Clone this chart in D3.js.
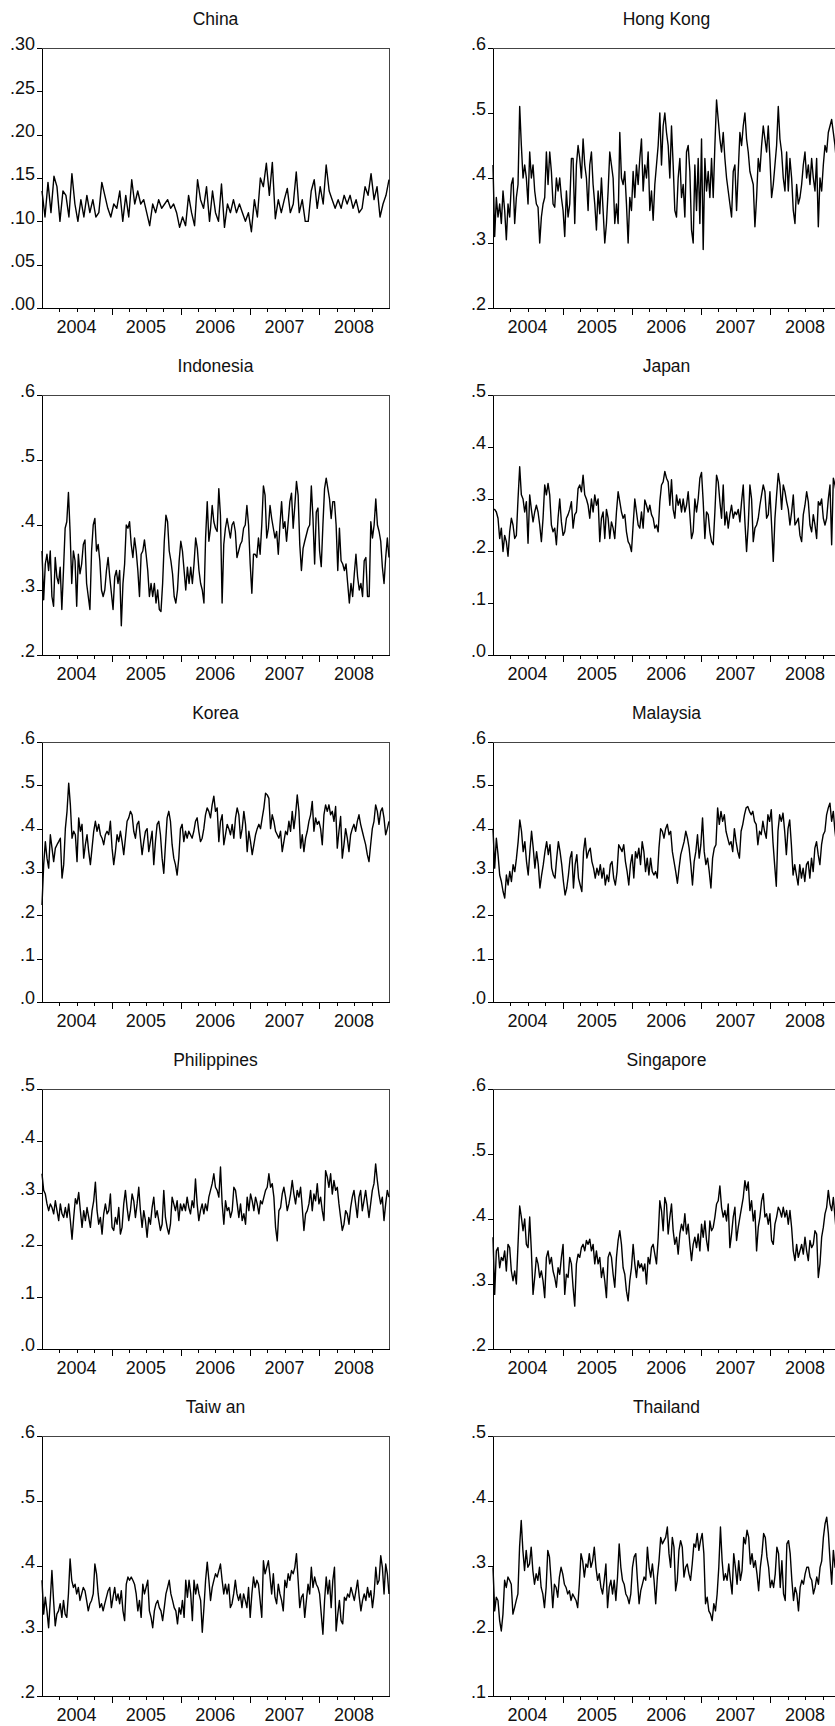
<!DOCTYPE html>
<html>
<head>
<meta charset="utf-8">
<script src="https://cdn.jsdelivr.net/npm/d3@7"></script>
<style>
body { margin: 0; background: #fff; }
svg { display: block; font-family: "Liberation Sans", Arial, sans-serif; }
</style>
</head>
<body>
<svg></svg>
<script>
// panel titles, left to right, top to bottom
let countries = ["China", "Hong Kong", "Indonesia", "Japan", "Korea", "Malaysia",
                 "Philippines", "Singapore", "Taiw an", "Thailand"];

let yearLabels = ["2004", "2005", "2006", "2007", "2008"];

let yDomains = [[0, 0.30], [0.2, 0.6], [0.2, 0.6], [0, 0.5], [0, 0.6],
                [0, 0.6], [0, 0.5], [0.2, 0.6], [0.2, 0.6], [0.1, 0.5]];

let yTicks = [
    [0, 0.05, 0.10, 0.15, 0.20, 0.25, 0.30],
    [0.2, 0.3, 0.4, 0.5, 0.6],
    [0.2, 0.3, 0.4, 0.5, 0.6],
    [0, 0.1, 0.2, 0.3, 0.4, 0.5],
    [0, 0.1, 0.2, 0.3, 0.4, 0.5, 0.6],
    [0, 0.1, 0.2, 0.3, 0.4, 0.5, 0.6],
    [0, 0.1, 0.2, 0.3, 0.4, 0.5],
    [0.2, 0.3, 0.4, 0.5, 0.6],
    [0.2, 0.3, 0.4, 0.5, 0.6],
    [0.1, 0.2, 0.3, 0.4, 0.5]
];

let yDecimals = [2, 1, 1, 1, 1, 1, 1, 1, 1, 1];

let china = [0.135, 0.105, 0.145, 0.11, 0.152, 0.14, 0.10, 0.135, 0.13, 0.105, 0.155, 0.12, 0.10, 0.125, 0.105, 0.13, 0.11, 0.125, 0.105, 0.11, 0.145, 0.13, 0.115, 0.105, 0.12, 0.115, 0.135, 0.10, 0.13, 0.105, 0.148, 0.12, 0.135, 0.12, 0.125, 0.11, 0.095, 0.12, 0.11, 0.125, 0.115, 0.12, 0.125, 0.115, 0.12, 0.11, 0.093, 0.105, 0.095, 0.13, 0.11, 0.095, 0.148, 0.125, 0.115, 0.14, 0.10, 0.135, 0.11, 0.10, 0.143, 0.093, 0.12, 0.11, 0.125, 0.11, 0.12, 0.11, 0.10, 0.11, 0.088, 0.125, 0.105, 0.15, 0.14, 0.167, 0.13, 0.168, 0.103, 0.125, 0.11, 0.125, 0.138, 0.11, 0.12, 0.157, 0.11, 0.125, 0.10, 0.10, 0.135, 0.148, 0.115, 0.14, 0.12, 0.165, 0.135, 0.125, 0.115, 0.125, 0.115, 0.13, 0.12, 0.13, 0.115, 0.125, 0.11, 0.115, 0.14, 0.13, 0.155, 0.125, 0.14, 0.105, 0.12, 0.13, 0.148];

let hongKong = [0.42, 0.31, 0.37, 0.34, 0.36, 0.33, 0.38, 0.35, 0.305, 0.36, 0.34, 0.39, 0.40, 0.33, 0.37, 0.39, 0.51, 0.45, 0.40, 0.42, 0.40, 0.36, 0.44, 0.40, 0.42, 0.38, 0.36, 0.355, 0.30, 0.34, 0.36, 0.37, 0.44, 0.39, 0.44, 0.41, 0.36, 0.355, 0.40, 0.38, 0.40, 0.37, 0.35, 0.31, 0.38, 0.34, 0.36, 0.43, 0.43, 0.33, 0.42, 0.45, 0.43, 0.40, 0.46, 0.42, 0.40, 0.35, 0.42, 0.44, 0.39, 0.36, 0.32, 0.38, 0.345, 0.40, 0.35, 0.30, 0.33, 0.38, 0.44, 0.42, 0.40, 0.33, 0.36, 0.33, 0.47, 0.40, 0.39, 0.41, 0.36, 0.30, 0.37, 0.35, 0.41, 0.37, 0.42, 0.39, 0.43, 0.46, 0.38, 0.42, 0.40, 0.44, 0.35, 0.38, 0.335, 0.39, 0.42, 0.45, 0.50, 0.42, 0.48, 0.50, 0.47, 0.45, 0.40, 0.48, 0.42, 0.35, 0.34, 0.40, 0.43, 0.37, 0.39, 0.34, 0.44, 0.45, 0.41, 0.32, 0.30, 0.42, 0.35, 0.43, 0.33, 0.46, 0.29, 0.43, 0.38, 0.41, 0.37, 0.43, 0.37, 0.45, 0.52, 0.49, 0.46, 0.44, 0.47, 0.43, 0.40, 0.38, 0.36, 0.34, 0.41, 0.42, 0.35, 0.41, 0.47, 0.45, 0.48, 0.50, 0.46, 0.44, 0.41, 0.40, 0.39, 0.325, 0.37, 0.43, 0.41, 0.45, 0.48, 0.46, 0.44, 0.48, 0.43, 0.37, 0.39, 0.42, 0.45, 0.51, 0.46, 0.44, 0.40, 0.38, 0.44, 0.38, 0.43, 0.40, 0.35, 0.33, 0.39, 0.36, 0.37, 0.39, 0.42, 0.44, 0.40, 0.42, 0.39, 0.43, 0.40, 0.38, 0.43, 0.325, 0.40, 0.38, 0.42, 0.45, 0.44, 0.47, 0.48, 0.49, 0.47, 0.45, 0.42, 0.46, 0.37];

let indonesia = [0.36, 0.285, 0.34, 0.355, 0.33, 0.36, 0.29, 0.275, 0.35, 0.32, 0.31, 0.335, 0.27, 0.33, 0.395, 0.405, 0.45, 0.39, 0.31, 0.36, 0.345, 0.275, 0.355, 0.325, 0.34, 0.37, 0.377, 0.31, 0.29, 0.27, 0.36, 0.40, 0.41, 0.36, 0.37, 0.345, 0.30, 0.29, 0.30, 0.33, 0.35, 0.32, 0.295, 0.27, 0.32, 0.33, 0.31, 0.33, 0.245, 0.31, 0.34, 0.40, 0.395, 0.405, 0.37, 0.35, 0.38, 0.36, 0.33, 0.29, 0.355, 0.36, 0.377, 0.355, 0.33, 0.29, 0.31, 0.29, 0.31, 0.28, 0.30, 0.27, 0.267, 0.31, 0.375, 0.415, 0.405, 0.36, 0.345, 0.325, 0.29, 0.28, 0.30, 0.345, 0.375, 0.36, 0.33, 0.30, 0.335, 0.31, 0.335, 0.31, 0.34, 0.38, 0.364, 0.33, 0.31, 0.30, 0.28, 0.38, 0.436, 0.375, 0.395, 0.43, 0.405, 0.395, 0.39, 0.456, 0.415, 0.28, 0.37, 0.395, 0.41, 0.395, 0.38, 0.40, 0.405, 0.39, 0.35, 0.36, 0.37, 0.375, 0.395, 0.40, 0.43, 0.40, 0.34, 0.295, 0.355, 0.355, 0.35, 0.38, 0.355, 0.40, 0.46, 0.446, 0.38, 0.395, 0.43, 0.41, 0.395, 0.38, 0.39, 0.355, 0.40, 0.436, 0.395, 0.405, 0.375, 0.405, 0.436, 0.449, 0.395, 0.43, 0.467, 0.446, 0.37, 0.33, 0.364, 0.375, 0.385, 0.395, 0.40, 0.46, 0.41, 0.34, 0.42, 0.426, 0.36, 0.336, 0.40, 0.456, 0.472, 0.456, 0.44, 0.41, 0.436, 0.436, 0.40, 0.33, 0.395, 0.345, 0.34, 0.33, 0.34, 0.31, 0.28, 0.31, 0.29, 0.325, 0.355, 0.32, 0.30, 0.31, 0.29, 0.345, 0.35, 0.29, 0.29, 0.405, 0.38, 0.40, 0.44, 0.40, 0.39, 0.375, 0.335, 0.31, 0.35, 0.38, 0.35];

let japan = [0.28, 0.28, 0.275, 0.263, 0.224, 0.244, 0.199, 0.23, 0.218, 0.19, 0.237, 0.263, 0.25, 0.224, 0.23, 0.30, 0.362, 0.308, 0.30, 0.275, 0.295, 0.215, 0.308, 0.28, 0.256, 0.275, 0.288, 0.275, 0.25, 0.218, 0.263, 0.327, 0.308, 0.33, 0.308, 0.25, 0.237, 0.244, 0.212, 0.263, 0.30, 0.256, 0.23, 0.237, 0.263, 0.27, 0.28, 0.295, 0.244, 0.27, 0.275, 0.32, 0.327, 0.314, 0.346, 0.308, 0.30, 0.288, 0.263, 0.30, 0.275, 0.308, 0.288, 0.30, 0.218, 0.263, 0.275, 0.224, 0.28, 0.263, 0.224, 0.256, 0.244, 0.224, 0.275, 0.314, 0.295, 0.275, 0.263, 0.27, 0.237, 0.218, 0.212, 0.199, 0.25, 0.30, 0.275, 0.25, 0.244, 0.275, 0.244, 0.298, 0.288, 0.275, 0.288, 0.27, 0.263, 0.244, 0.25, 0.237, 0.295, 0.327, 0.333, 0.353, 0.34, 0.333, 0.288, 0.337, 0.28, 0.263, 0.308, 0.288, 0.30, 0.275, 0.30, 0.275, 0.288, 0.314, 0.27, 0.224, 0.237, 0.30, 0.275, 0.30, 0.34, 0.351, 0.295, 0.224, 0.275, 0.27, 0.237, 0.218, 0.212, 0.275, 0.346, 0.333, 0.295, 0.263, 0.327, 0.25, 0.275, 0.244, 0.27, 0.288, 0.263, 0.275, 0.27, 0.28, 0.256, 0.295, 0.327, 0.256, 0.199, 0.25, 0.327, 0.30, 0.218, 0.244, 0.25, 0.263, 0.288, 0.308, 0.327, 0.314, 0.263, 0.27, 0.314, 0.25, 0.18, 0.263, 0.308, 0.349, 0.327, 0.28, 0.327, 0.314, 0.295, 0.28, 0.25, 0.275, 0.308, 0.25, 0.256, 0.263, 0.23, 0.218, 0.27, 0.288, 0.314, 0.295, 0.25, 0.237, 0.27, 0.25, 0.224, 0.295, 0.288, 0.30, 0.263, 0.25, 0.263, 0.30, 0.327, 0.212, 0.34, 0.327, 0.308, 0.30, 0.29];

let korea = [0.224, 0.317, 0.37, 0.332, 0.309, 0.386, 0.355, 0.324, 0.355, 0.363, 0.37, 0.378, 0.286, 0.317, 0.40, 0.44, 0.505, 0.455, 0.378, 0.394, 0.386, 0.324, 0.425, 0.394, 0.41, 0.332, 0.363, 0.386, 0.347, 0.317, 0.355, 0.394, 0.417, 0.394, 0.41, 0.386, 0.378, 0.363, 0.386, 0.394, 0.386, 0.417, 0.355, 0.317, 0.347, 0.386, 0.37, 0.394, 0.37, 0.34, 0.378, 0.417, 0.425, 0.44, 0.432, 0.394, 0.378, 0.41, 0.417, 0.378, 0.34, 0.37, 0.394, 0.40, 0.347, 0.37, 0.394, 0.317, 0.37, 0.41, 0.417, 0.386, 0.332, 0.297, 0.363, 0.425, 0.44, 0.417, 0.363, 0.332, 0.317, 0.293, 0.332, 0.40, 0.41, 0.37, 0.394, 0.378, 0.394, 0.386, 0.378, 0.394, 0.417, 0.425, 0.394, 0.37, 0.378, 0.40, 0.432, 0.448, 0.44, 0.425, 0.455, 0.475, 0.44, 0.448, 0.37, 0.417, 0.432, 0.363, 0.386, 0.41, 0.40, 0.386, 0.41, 0.378, 0.425, 0.448, 0.432, 0.378, 0.40, 0.44, 0.41, 0.347, 0.394, 0.37, 0.34, 0.363, 0.386, 0.40, 0.41, 0.40, 0.425, 0.448, 0.482, 0.478, 0.47, 0.40, 0.432, 0.417, 0.394, 0.386, 0.378, 0.394, 0.347, 0.37, 0.394, 0.386, 0.417, 0.394, 0.44, 0.40, 0.432, 0.478, 0.44, 0.355, 0.386, 0.347, 0.378, 0.394, 0.417, 0.432, 0.463, 0.394, 0.425, 0.41, 0.417, 0.40, 0.363, 0.432, 0.455, 0.44, 0.455, 0.432, 0.44, 0.417, 0.451, 0.355, 0.394, 0.428, 0.332, 0.363, 0.40, 0.378, 0.347, 0.386, 0.40, 0.41, 0.394, 0.417, 0.432, 0.41, 0.394, 0.378, 0.363, 0.34, 0.324, 0.363, 0.40, 0.417, 0.455, 0.44, 0.41, 0.44, 0.448, 0.425, 0.386, 0.40, 0.417];

let malaysia = [0.40, 0.309, 0.378, 0.34, 0.293, 0.278, 0.255, 0.24, 0.293, 0.27, 0.301, 0.278, 0.317, 0.301, 0.332, 0.37, 0.42, 0.394, 0.347, 0.37, 0.324, 0.293, 0.347, 0.394, 0.355, 0.309, 0.347, 0.317, 0.263, 0.293, 0.317, 0.347, 0.37, 0.34, 0.363, 0.309, 0.293, 0.286, 0.332, 0.37, 0.347, 0.317, 0.278, 0.247, 0.263, 0.293, 0.332, 0.347, 0.263, 0.317, 0.34, 0.286, 0.27, 0.255, 0.347, 0.378, 0.332, 0.347, 0.355, 0.324, 0.309, 0.286, 0.309, 0.293, 0.317, 0.286, 0.309, 0.27, 0.293, 0.278, 0.317, 0.324, 0.286, 0.27, 0.301, 0.363, 0.355, 0.347, 0.363, 0.324, 0.301, 0.27, 0.317, 0.34, 0.286, 0.347, 0.332, 0.355, 0.317, 0.37, 0.347, 0.301, 0.332, 0.293, 0.332, 0.301, 0.293, 0.301, 0.286, 0.355, 0.40, 0.394, 0.378, 0.40, 0.41, 0.386, 0.394, 0.347, 0.324, 0.301, 0.274, 0.309, 0.34, 0.355, 0.37, 0.394, 0.378, 0.355, 0.317, 0.27, 0.324, 0.347, 0.386, 0.332, 0.363, 0.425, 0.347, 0.317, 0.332, 0.301, 0.263, 0.332, 0.355, 0.363, 0.448, 0.41, 0.44, 0.417, 0.432, 0.394, 0.378, 0.363, 0.37, 0.347, 0.40, 0.37, 0.347, 0.332, 0.394, 0.41, 0.432, 0.448, 0.451, 0.44, 0.432, 0.44, 0.417, 0.41, 0.363, 0.394, 0.386, 0.417, 0.394, 0.378, 0.432, 0.417, 0.444, 0.37, 0.317, 0.267, 0.394, 0.432, 0.417, 0.436, 0.394, 0.34, 0.40, 0.42, 0.363, 0.293, 0.317, 0.293, 0.27, 0.317, 0.286, 0.309, 0.278, 0.317, 0.324, 0.286, 0.332, 0.301, 0.355, 0.37, 0.34, 0.317, 0.363, 0.386, 0.394, 0.432, 0.448, 0.459, 0.417, 0.44, 0.394, 0.363, 0.317, 0.33];

let philippines = [0.337, 0.305, 0.298, 0.279, 0.266, 0.279, 0.272, 0.26, 0.285, 0.266, 0.247, 0.279, 0.26, 0.253, 0.272, 0.253, 0.279, 0.247, 0.211, 0.253, 0.289, 0.279, 0.301, 0.266, 0.234, 0.266, 0.247, 0.272, 0.253, 0.234, 0.266, 0.285, 0.321, 0.266, 0.24, 0.253, 0.221, 0.26, 0.279, 0.26, 0.266, 0.298, 0.234, 0.228, 0.253, 0.24, 0.272, 0.221, 0.234, 0.279, 0.305, 0.272, 0.247, 0.266, 0.298, 0.285, 0.253, 0.279, 0.311, 0.266, 0.234, 0.266, 0.247, 0.215, 0.253, 0.24, 0.272, 0.292, 0.253, 0.266, 0.247, 0.228, 0.24, 0.305, 0.253, 0.234, 0.221, 0.24, 0.292, 0.279, 0.266, 0.285, 0.247, 0.279, 0.266, 0.279, 0.266, 0.292, 0.272, 0.26, 0.285, 0.272, 0.327, 0.279, 0.247, 0.266, 0.279, 0.26, 0.279, 0.266, 0.292, 0.305, 0.318, 0.337, 0.311, 0.305, 0.292, 0.35, 0.279, 0.24, 0.285, 0.266, 0.272, 0.253, 0.266, 0.311, 0.305, 0.279, 0.253, 0.279, 0.247, 0.26, 0.24, 0.292, 0.266, 0.298, 0.285, 0.266, 0.292, 0.279, 0.26, 0.285, 0.279, 0.292, 0.305, 0.311, 0.337, 0.311, 0.318, 0.292, 0.234, 0.208, 0.266, 0.272, 0.298, 0.311, 0.292, 0.266, 0.279, 0.298, 0.324, 0.298, 0.279, 0.305, 0.292, 0.311, 0.272, 0.228, 0.26, 0.266, 0.279, 0.305, 0.266, 0.298, 0.285, 0.318, 0.279, 0.292, 0.266, 0.247, 0.343, 0.331, 0.311, 0.337, 0.298, 0.324, 0.305, 0.311, 0.279, 0.253, 0.228, 0.24, 0.266, 0.26, 0.24, 0.272, 0.292, 0.305, 0.279, 0.253, 0.292, 0.305, 0.266, 0.285, 0.305, 0.279, 0.253, 0.279, 0.305, 0.318, 0.356, 0.324, 0.298, 0.279, 0.292, 0.247, 0.279, 0.305, 0.292];

let singapore = [0.372, 0.284, 0.351, 0.356, 0.325, 0.341, 0.336, 0.351, 0.32, 0.361, 0.356, 0.32, 0.305, 0.32, 0.30, 0.361, 0.42, 0.403, 0.382, 0.40, 0.361, 0.356, 0.403, 0.351, 0.284, 0.31, 0.341, 0.331, 0.31, 0.32, 0.305, 0.279, 0.341, 0.351, 0.331, 0.341, 0.32, 0.31, 0.295, 0.325, 0.315, 0.341, 0.361, 0.284, 0.315, 0.31, 0.341, 0.331, 0.295, 0.266, 0.331, 0.346, 0.341, 0.356, 0.361, 0.351, 0.367, 0.361, 0.369, 0.351, 0.361, 0.331, 0.351, 0.331, 0.341, 0.31, 0.325, 0.305, 0.279, 0.341, 0.349, 0.341, 0.315, 0.295, 0.341, 0.367, 0.382, 0.361, 0.325, 0.315, 0.289, 0.274, 0.305, 0.325, 0.361, 0.331, 0.31, 0.336, 0.325, 0.331, 0.32, 0.331, 0.30, 0.341, 0.331, 0.356, 0.361, 0.346, 0.331, 0.372, 0.428, 0.413, 0.382, 0.433, 0.423, 0.377, 0.403, 0.423, 0.382, 0.361, 0.372, 0.346, 0.377, 0.392, 0.382, 0.408, 0.377, 0.392, 0.361, 0.336, 0.361, 0.372, 0.356, 0.377, 0.351, 0.392, 0.372, 0.397, 0.367, 0.351, 0.397, 0.382, 0.387, 0.403, 0.423, 0.428, 0.451, 0.418, 0.403, 0.413, 0.397, 0.423, 0.356, 0.377, 0.403, 0.418, 0.367, 0.387, 0.403, 0.418, 0.433, 0.459, 0.444, 0.457, 0.413, 0.428, 0.397, 0.413, 0.351, 0.387, 0.403, 0.428, 0.439, 0.403, 0.408, 0.392, 0.408, 0.367, 0.361, 0.392, 0.403, 0.418, 0.413, 0.403, 0.418, 0.403, 0.413, 0.392, 0.413, 0.387, 0.351, 0.336, 0.361, 0.341, 0.351, 0.361, 0.346, 0.372, 0.351, 0.336, 0.367, 0.356, 0.361, 0.382, 0.377, 0.31, 0.331, 0.372, 0.387, 0.408, 0.418, 0.444, 0.423, 0.413, 0.433, 0.403, 0.372, 0.37, 0.36];

let taiwan = [0.378, 0.326, 0.352, 0.331, 0.305, 0.347, 0.393, 0.347, 0.308, 0.326, 0.331, 0.342, 0.321, 0.347, 0.326, 0.321, 0.357, 0.411, 0.378, 0.367, 0.372, 0.357, 0.367, 0.347, 0.357, 0.367, 0.362, 0.347, 0.331, 0.342, 0.347, 0.357, 0.403, 0.388, 0.357, 0.336, 0.342, 0.331, 0.342, 0.352, 0.362, 0.367, 0.336, 0.352, 0.367, 0.347, 0.357, 0.342, 0.362, 0.331, 0.316, 0.372, 0.383, 0.378, 0.383, 0.378, 0.372, 0.357, 0.331, 0.347, 0.321, 0.372, 0.357, 0.367, 0.378, 0.331, 0.321, 0.305, 0.331, 0.342, 0.347, 0.336, 0.331, 0.316, 0.336, 0.357, 0.367, 0.378, 0.357, 0.347, 0.336, 0.331, 0.311, 0.336, 0.326, 0.347, 0.321, 0.378, 0.352, 0.378, 0.357, 0.316, 0.378, 0.357, 0.372, 0.357, 0.347, 0.298, 0.336, 0.378, 0.406, 0.378, 0.347, 0.367, 0.378, 0.388, 0.383, 0.393, 0.403, 0.378, 0.357, 0.372, 0.357, 0.372, 0.336, 0.342, 0.357, 0.378, 0.357, 0.347, 0.357, 0.336, 0.357, 0.347, 0.336, 0.367, 0.321, 0.357, 0.383, 0.367, 0.378, 0.372, 0.347, 0.321, 0.408, 0.388, 0.398, 0.408, 0.383, 0.357, 0.388, 0.352, 0.342, 0.372, 0.357, 0.347, 0.331, 0.378, 0.367, 0.388, 0.378, 0.393, 0.388, 0.398, 0.419, 0.378, 0.336, 0.352, 0.357, 0.321, 0.347, 0.372, 0.357, 0.398, 0.367, 0.383, 0.372, 0.367, 0.357, 0.326, 0.295, 0.347, 0.383, 0.357, 0.378, 0.336, 0.378, 0.398, 0.30, 0.326, 0.347, 0.316, 0.311, 0.352, 0.347, 0.357, 0.352, 0.367, 0.357, 0.347, 0.362, 0.378, 0.352, 0.331, 0.347, 0.357, 0.347, 0.367, 0.352, 0.362, 0.336, 0.357, 0.398, 0.372, 0.378, 0.416, 0.398, 0.357, 0.403, 0.388, 0.357];

let thailand = [0.298, 0.231, 0.252, 0.247, 0.216, 0.20, 0.226, 0.278, 0.267, 0.283, 0.278, 0.272, 0.226, 0.236, 0.247, 0.257, 0.329, 0.37, 0.324, 0.293, 0.324, 0.298, 0.303, 0.329, 0.293, 0.272, 0.288, 0.278, 0.298, 0.267, 0.257, 0.236, 0.267, 0.324, 0.314, 0.278, 0.236, 0.272, 0.267, 0.252, 0.283, 0.298, 0.288, 0.272, 0.267, 0.257, 0.262, 0.247, 0.257, 0.252, 0.247, 0.236, 0.272, 0.319, 0.308, 0.283, 0.303, 0.298, 0.319, 0.298, 0.308, 0.329, 0.298, 0.278, 0.288, 0.267, 0.257, 0.278, 0.303, 0.236, 0.267, 0.278, 0.257, 0.278, 0.247, 0.283, 0.334, 0.298, 0.278, 0.272, 0.257, 0.252, 0.242, 0.257, 0.298, 0.314, 0.319, 0.278, 0.242, 0.262, 0.272, 0.283, 0.278, 0.329, 0.298, 0.283, 0.303, 0.278, 0.242, 0.283, 0.308, 0.344, 0.334, 0.339, 0.344, 0.36, 0.319, 0.298, 0.344, 0.329, 0.262, 0.278, 0.324, 0.339, 0.329, 0.283, 0.298, 0.303, 0.288, 0.278, 0.303, 0.334, 0.329, 0.35, 0.324, 0.339, 0.35, 0.319, 0.242, 0.252, 0.231, 0.226, 0.216, 0.242, 0.231, 0.257, 0.298, 0.36, 0.308, 0.278, 0.288, 0.278, 0.303, 0.278, 0.257, 0.319, 0.298, 0.272, 0.308, 0.278, 0.293, 0.344, 0.334, 0.355, 0.344, 0.303, 0.319, 0.298, 0.308, 0.288, 0.262, 0.298, 0.319, 0.35, 0.344, 0.314, 0.298, 0.267, 0.278, 0.267, 0.288, 0.329, 0.319, 0.267, 0.308, 0.257, 0.247, 0.334, 0.339, 0.319, 0.278, 0.247, 0.267, 0.257, 0.231, 0.267, 0.278, 0.272, 0.288, 0.298, 0.298, 0.283, 0.278, 0.257, 0.267, 0.283, 0.272, 0.298, 0.308, 0.344, 0.365, 0.375, 0.35, 0.308, 0.272, 0.324, 0.298, 0.303, 0.30, 0.31];

let series = [china, hongKong, indonesia, japan, korea, malaysia, philippines, singapore, taiwan, thailand];

let width = 835;
let height = 1726;
let panelW = 347;
let panelH = 260;
let colX = [42, 493];
let top0 = 48;
let rowStep = 347;

let startDate = new Date(2004, 0, 1);
let endDate = new Date(2009, 0, 1);

let svg = d3.select("svg")
    .attr("width", width)
    .attr("height", height);

svg.append("rect")
    .attr("width", width)
    .attr("height", height)
    .attr("fill", "#fff");

let xScale = d3.scaleTime()
    .domain([startDate, endDate])
    .range([0, panelW]);

let quarters = d3.timeMonth.every(3).range(d3.timeMonth.offset(startDate, 3), endDate);

series.forEach((values, i) => {
    let col = i % 2;
    let row = Math.floor(i / 2);

    let g = svg.append("g")
        .attr("transform", "translate(" + colX[col] + "," + (top0 + row * rowStep) + ")");

    let yScale = d3.scaleLinear()
        .domain(yDomains[i])
        .range([panelH, 0]);

    // observations are evenly spaced over the five years
    let dateAt = d3.scaleLinear()
        .domain([0, values.length - 1])
        .range([startDate, endDate]);

    // title
    g.append("text")
        .attr("x", panelW / 2)
        .attr("y", -23)
        .attr("text-anchor", "middle")
        .attr("font-size", 17.5)
        .attr("fill", "#111")
        .text(countries[i]);

    // frame
    g.append("rect")
        .attr("width", panelW)
        .attr("height", panelH)
        .attr("fill", "none")
        .attr("stroke", "#444")
        .attr("stroke-width", 1)
        .attr("shape-rendering", "crispEdges");

    // series line
    let line = d3.line()
        .x((d, k) => xScale(dateAt(k)))
        .y(d => yScale(d));

    g.append("path")
        .datum(values)
        .attr("d", line)
        .attr("fill", "none")
        .attr("stroke", "#000")
        .attr("stroke-width", 1.4)
        .attr("stroke-linejoin", "round");

    // x axis: quarter ticks, longer at year boundaries
    let xAxis = d3.axisBottom(xScale)
        .tickValues(quarters)
        .tickFormat("")
        .tickSize(4)
        .tickSizeOuter(0);

    let gx = g.append("g")
        .attr("transform", "translate(0," + panelH + ")")
        .call(xAxis);
    gx.select(".domain")
        .attr("stroke", "#000")
        .attr("shape-rendering", "crispEdges");
    gx.selectAll(".tick line")
        .attr("stroke", "#000")
        .attr("shape-rendering", "crispEdges")
        .attr("y2", d => d.getMonth() === 0 ? 7 : 4);

    g.selectAll(".year")
        .data(yearLabels)
        .enter()
        .append("text")
        .attr("class", "year")
        .attr("x", d => xScale(new Date(+d, 6, 1)))
        .attr("y", panelH + 25)
        .attr("text-anchor", "middle")
        .attr("font-size", 18)
        .attr("fill", "#111")
        .text(d => d);

    // y axis
    let fmt = d3.format("." + yDecimals[i] + "f");
    let yAxis = d3.axisLeft(yScale)
        .tickValues(yTicks[i])
        .tickSize(5)
        .tickSizeOuter(0)
        .tickPadding(2)
        .tickFormat(d => fmt(d).replace(/^0/, ""));

    let gy = g.append("g")
        .call(yAxis)
        .attr("font-size", 18)
        .attr("font-family", null);
    gy.select(".domain")
        .attr("stroke", "#000")
        .attr("shape-rendering", "crispEdges");
    gy.selectAll(".tick line")
        .attr("stroke", "#000")
        .attr("shape-rendering", "crispEdges");
    gy.selectAll(".tick text")
        .attr("fill", "#111")
        .attr("dy", "0.1em");
});
</script>
</body>
</html>
